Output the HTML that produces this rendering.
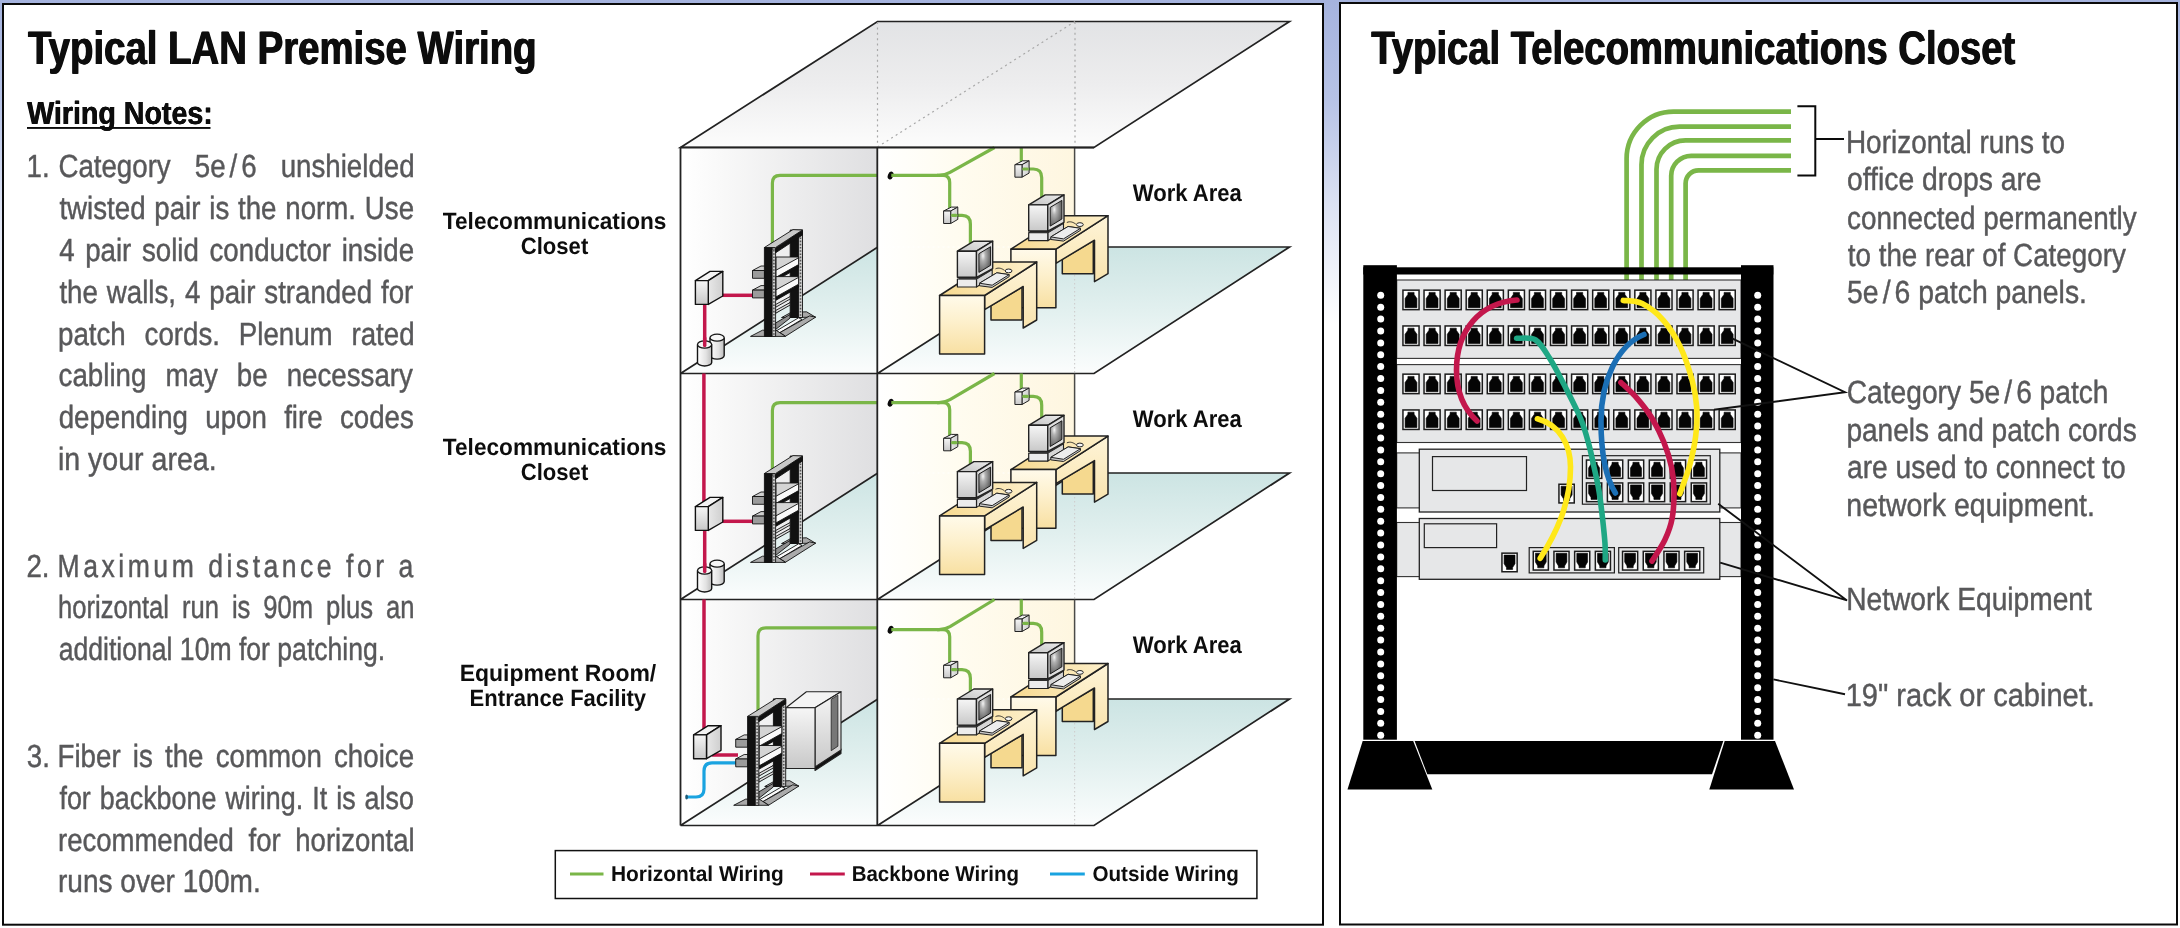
<!DOCTYPE html>
<html><head><meta charset="utf-8"><title>Typical LAN Premise Wiring</title>
<style>html,body{margin:0;padding:0;background:#fff;overflow:hidden}body{width:2180px;height:928px;position:relative}</style></head>
<body>
<svg width="2180" height="928" viewBox="0 0 2180 928" style="position:absolute;left:0;top:0;will-change:transform;font-family:'Liberation Sans',sans-serif" text-rendering="geometricPrecision">
<defs>
<linearGradient id="gBg" x1="0" y1="0" x2="0" y2="1"><stop offset="0" stop-color="#a5b3de"/><stop offset="0.11" stop-color="#b7c3e6"/><stop offset="0.22" stop-color="#dce2f3"/><stop offset="0.35" stop-color="#ffffff"/><stop offset="1" stop-color="#ffffff"/></linearGradient>

<linearGradient id="gWall" x1="0" y1="0" x2="1" y2="0">
 <stop offset="0" stop-color="#ffffff"/><stop offset="0.2" stop-color="#f9f9f9"/><stop offset="0.6" stop-color="#ececed"/><stop offset="1" stop-color="#dfdfe1"/>
</linearGradient>
<linearGradient id="gFloor" gradientUnits="userSpaceOnUse" x1="0" y1="247" x2="0" y2="373">
 <stop offset="0" stop-color="#cce4e3"/><stop offset="0.5" stop-color="#e2f0ef"/><stop offset="1" stop-color="#fbfdfd"/>
</linearGradient>
<linearGradient id="gYel" x1="0" y1="0" x2="1" y2="0">
 <stop offset="0" stop-color="#ffffff"/><stop offset="0.4" stop-color="#fffcf0"/><stop offset="1" stop-color="#fef6e0"/>
</linearGradient>
<linearGradient id="gYelF" x1="0" y1="0" x2="1" y2="0">
 <stop offset="0" stop-color="#ffffff" stop-opacity="0.95"/><stop offset="0.5" stop-color="#fffdf8" stop-opacity="0.92"/><stop offset="1" stop-color="#fffaec" stop-opacity="0.88"/>
</linearGradient>
<linearGradient id="gRoof" gradientUnits="userSpaceOnUse" x1="0" y1="21" x2="0" y2="147">
 <stop offset="0" stop-color="#e2e3e5"/><stop offset="0.5" stop-color="#ededee"/><stop offset="1" stop-color="#fcfcfc"/>
</linearGradient>
<linearGradient id="gDeskF" x1="0" y1="0" x2="0" y2="1">
 <stop offset="0" stop-color="#fffaea"/><stop offset="0.45" stop-color="#fdf0cc"/><stop offset="1" stop-color="#f8e0a2"/>
</linearGradient>
<linearGradient id="gDeskT" x1="0" y1="0" x2="1" y2="0">
 <stop offset="0" stop-color="#f7d98f"/><stop offset="1" stop-color="#fdf0cc"/>
</linearGradient>
<linearGradient id="gDeskS" x1="0" y1="0" x2="0" y2="1">
 <stop offset="0" stop-color="#fef4d8"/><stop offset="1" stop-color="#f9e4ae"/>
</linearGradient>
<linearGradient id="gBox" x1="0" y1="0" x2="0" y2="1">
 <stop offset="0" stop-color="#f6f6f6"/><stop offset="1" stop-color="#c8c8c8"/>
</linearGradient>
<linearGradient id="gBoxS" x1="0" y1="0" x2="1" y2="0">
 <stop offset="0" stop-color="#e8e8e8"/><stop offset="1" stop-color="#cfcfcf"/>
</linearGradient>
<linearGradient id="gMonT" x1="0" y1="1" x2="1" y2="0">
 <stop offset="0" stop-color="#c4c4c4"/><stop offset="1" stop-color="#ececec"/>
</linearGradient>
<radialGradient id="gScr" cx="0.35" cy="0.35" r="0.7">
 <stop offset="0" stop-color="#f4f4f4"/><stop offset="0.3" stop-color="#b0b0b0"/><stop offset="1" stop-color="#5a5a5a"/>
</radialGradient>
<linearGradient id="gCyl" x1="0" y1="0" x2="1" y2="0">
 <stop offset="0" stop-color="#ffffff"/><stop offset="0.6" stop-color="#e2e2e2"/><stop offset="1" stop-color="#bdbdbd"/>
</linearGradient>

<g id="oc" stroke="#222" stroke-width="1" stroke-linejoin="round">
<path d="M953.5,215.3 H962 Q970.4,215.3 970.4,224 V250" fill="none" stroke="#7ab648" stroke-width="3.2"/>
<polygon points="943.6,211.0 950.7,211.0 957.8,207.1 951.3,207.1" fill="#f2f2f2"/>
<polygon points="950.7,211.0 957.8,207.1 957.8,219.4 950.7,223.5" fill="url(#gBoxS)"/>
<rect x="943.6" y="211" width="7.1" height="12.5" fill="url(#gBox)"/>
<path d="M952.5,215.3 H956" fill="none" stroke="#7ab648" stroke-width="3.2" stroke-linecap="round"/>
</g>
<g id="dm" stroke="#222" stroke-width="1.5" stroke-linejoin="round">
<polygon points="991.0,305.5 1022.0,287.2 1022.0,320.0 991.0,320.0" fill="#f5d98f"/>
<polygon points="984.6,295.5 1036.7,262.0 1036.7,320.0 1023.2,328.0 1023.2,286.5 984.6,309.6" fill="url(#gDeskS)"/>
<polygon points="939.6,295.5 984.6,295.5 1036.7,262.0 991.7,262.0" fill="url(#gDeskT)"/>
<rect x="939.6" y="295.5" width="45" height="58.6" fill="url(#gDeskF)"/>
<polygon points="976.5,279.0 992.2,269.6 992.2,277.2 976.5,287.0" fill="#d6d6d6" stroke-width="1.1"/>
<rect x="957.4" y="279" width="19.1" height="8" fill="#ececec" stroke-width="1.2"/>
<polygon points="979.5,283.2 979.5,285.8 992.2,287.4 1009.2,276.6 1009.2,274.6 996.8,272.8" fill="#c8c8c8" stroke-width="1"/>
<polygon points="979.5,283.2 992.2,285.2 1009.2,274.6 996.8,272.8" fill="#ededed" stroke-width="1"/>
<path d="M995.5,268.8 C999,267.2 1002,268.6 1004.5,270.4" fill="none" stroke-width="0.9"/>
<ellipse cx="1008.6" cy="270.9" rx="3.4" ry="1.9" fill="#f6f6f6" stroke-width="1"/>
<polygon points="958.6,277.3 976.5,277.3 992.0,268.0 992.0,270.0 976.5,279.2 958.6,279.2" fill="#333" stroke="none"/>
<polygon points="957.4,251.2 976.5,251.2 992.7,241.2 973.9,241.2" fill="url(#gMonT)" stroke-width="1.4"/>
<rect x="957.4" y="251.2" width="19.1" height="26.1" fill="url(#gBox)" stroke-width="1.4"/>
<polygon points="976.5,251.2 992.7,241.2 992.7,268.6 976.5,277.3" fill="#dedede" stroke-width="1.4"/>
<polygon points="978.9,253.7 990.6,246.7 990.6,265.3 978.9,272.4" fill="url(#gScr)" stroke="#1a1a1a" stroke-width="1"/>
</g>
<g id="rk" stroke="#111" stroke-width="0.9" stroke-linejoin="round">
<polygon points="781.5,317.6 815.6,317.2 806.5,311.8 791.0,312.4" fill="#a8a8a8"/>
<polygon points="775.6,323.0 790.2,314.4 790.2,318.0 775.6,329.5" fill="#8f8f8f"/>
<polygon points="775.8,331.2 779.8,332.7 802.0,319.4 798.6,317.8" fill="#fbfbfb"/>
<polygon points="779.8,332.7 785.6,336.2 815.6,317.2 809.6,315.9" fill="#ababab"/>
<rect x="790.2" y="230" width="8.4" height="87.5" fill="#111"/>
<rect x="798.6" y="230" width="3.9" height="87.5" fill="#d0d0d0"/>
<line x1="800.5" y1="231" x2="800.5" y2="317" stroke="#555" stroke-width="1.6" stroke-dasharray="1.6,1.6"/>
<polygon points="775.6,304.5 790.2,296.5 790.2,299.0 775.6,307.3" fill="#ddd"/>
<polygon points="775.6,310.5 790.2,302.5 790.2,305.0 775.6,313.3" fill="#ddd"/>
<polygon points="776.0,257.0 798.6,257.0 798.6,259.0 776.0,271.0" fill="#d4d4d4"/>
<polygon points="776.0,277.0 798.6,264.4 798.6,267.6 776.0,280.6" fill="#111"/>
<polygon points="776.0,270.2 798.6,257.8 798.6,264.6 776.0,277.3" fill="#fafafa"/>
<polygon points="752.5,270.5 764.4,270.5 772.0,266.0 761.0,266.0" fill="#cfcfcf"/>
<rect x="752.5" y="270.5" width="12" height="7.8" transform="translate(0,0)" fill="#9b9b9b"/>
<polygon points="776.0,276.6 798.6,276.6 798.6,278.6 776.0,290.6" fill="#d4d4d4"/>
<polygon points="776.0,296.6 798.6,284.0 798.6,287.2 776.0,300.2" fill="#111"/>
<polygon points="776.0,289.8 798.6,277.4 798.6,284.2 776.0,296.9" fill="#fafafa"/>
<polygon points="752.5,290.1 764.4,290.1 772.0,285.6 761.0,285.6" fill="#cfcfcf"/>
<rect x="752.5" y="270.5" width="12" height="7.8" transform="translate(0,19.6)" fill="#9b9b9b"/>
<polygon points="750.5,336.4 785.5,336.4 776.0,330.2 762.5,330.2" fill="#a8a8a8"/>
<rect x="764.4" y="247.5" width="7.7" height="89" fill="#111"/>
<rect x="772.1" y="249" width="3.5" height="87.4" fill="#d0d0d0"/>
<line x1="773.9" y1="250" x2="773.9" y2="336" stroke="#555" stroke-width="1.6" stroke-dasharray="1.6,1.6"/>
<polygon points="775.6,248.0 802.5,230.5 802.5,235.0 775.6,252.8" fill="#111"/>
<polygon points="764.4,247.5 775.6,247.5 802.5,230.0 793.0,229.6" fill="#c8c8c8"/>
</g>
<g id="wb" stroke="#111" stroke-width="1.4" stroke-linejoin="round">
<polygon points="695.4,280.6 708.3,280.6 722.8,271.4 710.0,271.4" fill="#f4f4f4"/>
<polygon points="708.3,280.6 722.8,271.4 722.8,296.0 708.3,304.4" fill="url(#gBoxS)"/>
<rect x="695.4" y="280.6" width="12.9" height="23.8" fill="url(#gBox)"/>
</g>
<g id="cy"><path d="M710.0,337.7 V355.6 A7.1,3.5 0 0 0 724.2,355.6 V337.7" fill="url(#gCyl)" stroke="#151515" stroke-width="1.4"/><ellipse cx="717.1" cy="337.7" rx="7.1" ry="3.5" fill="#f6f6f6" stroke="#151515" stroke-width="1.3"/><path d="M697.5,344.5 V362.4 A7.1,3.6 0 0 0 711.7,362.4 V344.5" fill="url(#gCyl)" stroke="#151515" stroke-width="1.4"/><ellipse cx="704.6" cy="344.5" rx="7.1" ry="3.6" fill="#f6f6f6" stroke="#151515" stroke-width="1.3"/></g>
</defs>
<rect width="2180" height="928" fill="url(#gBg)"/>
<rect x="3" y="4" width="1320" height="920.7" fill="#fff" stroke="#0a0a0a" stroke-width="2"/>
<rect x="1340" y="3" width="837" height="921.5" fill="#fff" stroke="#0a0a0a" stroke-width="2"/>
<polygon points="680.5,147.5 877.5,21.5 1289.5,21.5 1094.0,147.5" fill="url(#gRoof)" stroke="#222" stroke-width="1.7" stroke-linejoin="miter"/>
<g stroke="#a8a8a8" stroke-width="1.2" stroke-dasharray="2,3.4" fill="none"><path d="M877.5,22 V147 M1075,22 V147 M877.5,147 L1075,21.5"/></g>
<g transform="translate(0,0)">
<polygon points="680.5,373.5 1094.0,373.5 1289.5,247.0 877.5,247.0" fill="url(#gFloor)"/>
<polygon points="680.5,147.5 877.5,147.5 877.5,247.3 680.5,373.5" fill="url(#gWall)"/>
<polygon points="877.5,147.5 1074.6,147.5 1074.6,247.3 877.5,373.5" fill="url(#gYel)"/>
</g>
<g transform="translate(0,226)">
<polygon points="680.5,373.5 1094.0,373.5 1289.5,247.0 877.5,247.0" fill="url(#gFloor)"/>
<polygon points="680.5,147.5 877.5,147.5 877.5,247.3 680.5,373.5" fill="url(#gWall)"/>
<polygon points="877.5,147.5 1074.6,147.5 1074.6,247.3 877.5,373.5" fill="url(#gYel)"/>
</g>
<g transform="translate(0,452)">
<polygon points="680.5,373.5 1094.0,373.5 1289.5,247.0 877.5,247.0" fill="url(#gFloor)"/>
<polygon points="680.5,147.5 877.5,147.5 877.5,247.3 680.5,373.5" fill="url(#gWall)"/>
<polygon points="877.5,147.5 1074.6,147.5 1074.6,247.3 877.5,373.5" fill="url(#gYel)"/>
</g>
<g transform="translate(0,0)">
<line x1="1074.6" y1="147.5" x2="1074.6" y2="247" stroke="#4a4a48" stroke-width="1.5"/>
<line x1="1074.6" y1="247" x2="1074.6" y2="373.5" stroke="#cfcfcf" stroke-width="1.2" stroke-dasharray="1.5,2.5"/>
<line x1="877.5" y1="247" x2="1075" y2="247" stroke="#ffffff" stroke-width="1.2" stroke-dasharray="2,3" opacity="0.8"/>
<path d="M680.5,373.5 L877.5,247.3 M877.5,373.5 L1074.6,247.3 M1075,247 H1289.5 L1094,373.5 H680.5" fill="none" stroke="#222" stroke-width="1.7" stroke-linejoin="miter"/>
<g transform="translate(0,0)">
<ellipse cx="890.6" cy="175.5" rx="2.7" ry="4" fill="#0a0a0a" transform="rotate(22 890.6 175.5)"/>
<path d="M891.3,175.3 H939 Q945,175.3 950,172.4 L994.5,147.5" fill="none" stroke="#7ab648" stroke-width="3.2"/>
<path d="M937,175.3 H943 Q949.7,175.3 949.7,182.5 V210" fill="none" stroke="#7ab648" stroke-width="3.2"/>
<path d="M1021.3,147.5 V164" fill="none" stroke="#7ab648" stroke-width="3.2"/>
<use href="#oc" transform="translate(71.3,-46.3)"/>
<use href="#oc"/>
</g>
<use href="#dm" transform="translate(71.3,-46.3)"/>
<use href="#dm" transform="translate(0,0)"/>
</g>
<g transform="translate(0,226)">
<line x1="1074.6" y1="147.5" x2="1074.6" y2="247" stroke="#4a4a48" stroke-width="1.5"/>
<line x1="1074.6" y1="247" x2="1074.6" y2="373.5" stroke="#cfcfcf" stroke-width="1.2" stroke-dasharray="1.5,2.5"/>
<line x1="877.5" y1="247" x2="1075" y2="247" stroke="#ffffff" stroke-width="1.2" stroke-dasharray="2,3" opacity="0.8"/>
<path d="M680.5,373.5 L877.5,247.3 M877.5,373.5 L1074.6,247.3 M1075,247 H1289.5 L1094,373.5 H680.5" fill="none" stroke="#222" stroke-width="1.7" stroke-linejoin="miter"/>
<g transform="translate(0,1.3)">
<ellipse cx="890.6" cy="175.5" rx="2.7" ry="4" fill="#0a0a0a" transform="rotate(22 890.6 175.5)"/>
<path d="M891.3,175.3 H939 Q945,175.3 950,172.4 L994.5,146.2" fill="none" stroke="#7ab648" stroke-width="3.2"/>
<path d="M937,175.3 H943 Q949.7,175.3 949.7,182.5 V210" fill="none" stroke="#7ab648" stroke-width="3.2"/>
<path d="M1021.3,146.2 V164" fill="none" stroke="#7ab648" stroke-width="3.2"/>
<use href="#oc" transform="translate(71.3,-46.3)"/>
<use href="#oc"/>
</g>
<use href="#dm" transform="translate(71.3,-51.9)"/>
<use href="#dm" transform="translate(0,-5.6)"/>
</g>
<g transform="translate(0,452)">
<line x1="1074.6" y1="147.5" x2="1074.6" y2="247" stroke="#4a4a48" stroke-width="1.5"/>
<line x1="1074.6" y1="247" x2="1074.6" y2="373.5" stroke="#cfcfcf" stroke-width="1.2" stroke-dasharray="1.5,2.5"/>
<line x1="877.5" y1="247" x2="1075" y2="247" stroke="#ffffff" stroke-width="1.2" stroke-dasharray="2,3" opacity="0.8"/>
<path d="M680.5,373.5 L877.5,247.3 M877.5,373.5 L1074.6,247.3 M1075,247 H1289.5 L1094,373.5 H680.5" fill="none" stroke="#222" stroke-width="1.7" stroke-linejoin="miter"/>
<g transform="translate(0,2.3)">
<ellipse cx="890.6" cy="175.5" rx="2.7" ry="4" fill="#0a0a0a" transform="rotate(22 890.6 175.5)"/>
<path d="M891.3,175.3 H939 Q945,175.3 950,172.4 L994.5,145.2" fill="none" stroke="#7ab648" stroke-width="3.2"/>
<path d="M937,175.3 H943 Q949.7,175.3 949.7,182.5 V210" fill="none" stroke="#7ab648" stroke-width="3.2"/>
<path d="M1021.3,145.2 V164" fill="none" stroke="#7ab648" stroke-width="3.2"/>
<use href="#oc" transform="translate(71.3,-46.3)"/>
<use href="#oc"/>
</g>
<use href="#dm" transform="translate(71.3,-50.5)"/>
<use href="#dm" transform="translate(0,-4.2)"/>
</g>
<g transform="translate(0,0)">
<path d="M877.5,175.4 H780 Q772.4,175.4 772.4,183.1 V246" fill="none" stroke="#7ab648" stroke-width="3.2"/>
<path d="M722,295.3 H753" fill="none" stroke="#c3174c" stroke-width="3.5"/>
<path d="M704.7,304 V346" fill="none" stroke="#c3174c" stroke-width="3.5"/>
<use href="#cy"/>
<path d="M704.7,338 V345.5" fill="none" stroke="#c3174c" stroke-width="3.5" stroke-linecap="round"/>
<use href="#wb"/>
<use href="#rk"/>
</g>
<g transform="translate(0,226)">
<path d="M877.5,176.70000000000002 H780 Q772.4,176.70000000000002 772.4,184.4 V246" fill="none" stroke="#7ab648" stroke-width="3.2"/>
<path d="M722,295.3 H753" fill="none" stroke="#c3174c" stroke-width="3.5"/>
<path d="M704.7,304 V346" fill="none" stroke="#c3174c" stroke-width="3.5"/>
<path d="M703.9,147.5 V282" fill="none" stroke="#c3174c" stroke-width="3.5"/>
<use href="#cy"/>
<path d="M704.7,338 V345.5" fill="none" stroke="#c3174c" stroke-width="3.5" stroke-linecap="round"/>
<use href="#wb"/>
<use href="#rk"/>
</g>
<g transform="translate(0,452)">
<path d="M877.5,175.79999999999995 H766 Q758,175.79999999999995 758,184 V260" fill="none" stroke="#7ab648" stroke-width="3.2"/>
<path d="M704,147.5 V280" fill="none" stroke="#c3174c" stroke-width="3.5"/>
<path d="M712,303 H738" fill="none" stroke="#c3174c" stroke-width="3.5"/>
<path d="M738,310.79999999999995 H712 Q704,310.79999999999995 704,319 V337 Q704,345 696,345 H687" fill="none" stroke="#1aa3e0" stroke-width="3.2"/>
<ellipse cx="686.6" cy="345" rx="1.4" ry="2.6" fill="#1b5a78"/>
<use href="#wb" transform="translate(-1.8,2.3)"/>
<g stroke="#222" stroke-width="1.1" stroke-linejoin="round">
<polygon points="815.0,314.0 841.0,297.0 841.0,301.5 815.0,318.5" fill="#111"/>
<polygon points="786.0,255.8 815.0,255.8 841.0,239.7 806.4,239.7" fill="#f4f4f4"/>
<polygon points="815.0,255.8 841.0,239.7 841.0,298.0 815.0,315.0" fill="url(#gBox)"/>
<rect x="786" y="255.79999999999995" width="29" height="60.7" fill="url(#gBox)"/>
<polygon points="831.2,247.3 837.9,243.2 837.9,294.2 831.2,298.7" fill="#777" stroke-width="0.8"/>
</g>
<use href="#rk" transform="translate(-16.8,16.9)"/>
</g>
<path d="M680.5,147.5 V825.5 M877.3,147.5 V825.5 M680.5,147.5 H1094" fill="none" stroke="#222" stroke-width="1.8"/>
<rect x="555.3" y="850.6" width="701.6" height="47.9" fill="#fff" stroke="#111" stroke-width="1.5"/>
<line x1="570" y1="874" x2="603.5" y2="874" stroke="#7ab648" stroke-width="3"/>
<line x1="810" y1="874" x2="844.8" y2="874" stroke="#c3174c" stroke-width="3"/>
<line x1="1050" y1="874" x2="1084.8" y2="874" stroke="#1aa3e0" stroke-width="3"/>
<path d="M1626.6,280 V158.6 A47,47 0 0 1 1673.6,111.6 H1791" fill="none" stroke="#7ab648" stroke-width="4.7"/>
<path d="M1641.5,280 V164.7 A38,38 0 0 1 1679.5,126.7 H1791" fill="none" stroke="#7ab648" stroke-width="4.7"/>
<path d="M1656.5,280 V169.3 A29,29 0 0 1 1685.5,140.3 H1791" fill="none" stroke="#7ab648" stroke-width="4.7"/>
<path d="M1671.2,280 V175.8 A20,20 0 0 1 1691.2,155.8 H1791" fill="none" stroke="#7ab648" stroke-width="4.7"/>
<path d="M1685.6,280 V183.4 A13,13 0 0 1 1698.6,170.4 H1791" fill="none" stroke="#7ab648" stroke-width="4.7"/>
<path d="M1797.4,106.2 H1815.3 V175.6 H1797.4 M1815.3,139 H1844" fill="none" stroke="#0a0a0a" stroke-width="2"/>
<rect x="1396.7" y="280" width="344.3" height="78.4" fill="#e6e7e8" stroke="#333" stroke-width="1.1"/>
<rect x="1396.7" y="364.6" width="344.3" height="77.9" fill="#e6e7e8" stroke="#333" stroke-width="1.1"/>
<rect x="1402.95" y="290.15" width="16.10" height="19.50" fill="#fff" stroke="#1c1c1c" stroke-width="1.5"/><polygon points="1405.1,307.7 1405.1,298.5 1407.9,294.4 1407.9,292.4 1414.1,292.4 1414.1,294.4 1416.9,298.5 1416.9,307.7" fill="#050505" stroke="#050505" stroke-width="0.6" stroke-linejoin="round"/>
<rect x="1424.03" y="290.15" width="16.10" height="19.50" fill="#fff" stroke="#1c1c1c" stroke-width="1.5"/><polygon points="1426.2,307.7 1426.2,298.5 1429.0,294.4 1429.0,292.4 1435.2,292.4 1435.2,294.4 1438.0,298.5 1438.0,307.7" fill="#050505" stroke="#050505" stroke-width="0.6" stroke-linejoin="round"/>
<rect x="1445.11" y="290.15" width="16.10" height="19.50" fill="#fff" stroke="#1c1c1c" stroke-width="1.5"/><polygon points="1447.3,307.7 1447.3,298.5 1450.1,294.4 1450.1,292.4 1456.3,292.4 1456.3,294.4 1459.1,298.5 1459.1,307.7" fill="#050505" stroke="#050505" stroke-width="0.6" stroke-linejoin="round"/>
<rect x="1466.19" y="290.15" width="16.10" height="19.50" fill="#fff" stroke="#1c1c1c" stroke-width="1.5"/><polygon points="1468.3,307.7 1468.3,298.5 1471.1,294.4 1471.1,292.4 1477.3,292.4 1477.3,294.4 1480.1,298.5 1480.1,307.7" fill="#050505" stroke="#050505" stroke-width="0.6" stroke-linejoin="round"/>
<rect x="1487.27" y="290.15" width="16.10" height="19.50" fill="#fff" stroke="#1c1c1c" stroke-width="1.5"/><polygon points="1489.4,307.7 1489.4,298.5 1492.2,294.4 1492.2,292.4 1498.4,292.4 1498.4,294.4 1501.2,298.5 1501.2,307.7" fill="#050505" stroke="#050505" stroke-width="0.6" stroke-linejoin="round"/>
<rect x="1508.35" y="290.15" width="16.10" height="19.50" fill="#fff" stroke="#1c1c1c" stroke-width="1.5"/><polygon points="1510.5,307.7 1510.5,298.5 1513.3,294.4 1513.3,292.4 1519.5,292.4 1519.5,294.4 1522.3,298.5 1522.3,307.7" fill="#050505" stroke="#050505" stroke-width="0.6" stroke-linejoin="round"/>
<rect x="1529.43" y="290.15" width="16.10" height="19.50" fill="#fff" stroke="#1c1c1c" stroke-width="1.5"/><polygon points="1531.6,307.7 1531.6,298.5 1534.4,294.4 1534.4,292.4 1540.6,292.4 1540.6,294.4 1543.4,298.5 1543.4,307.7" fill="#050505" stroke="#050505" stroke-width="0.6" stroke-linejoin="round"/>
<rect x="1550.51" y="290.15" width="16.10" height="19.50" fill="#fff" stroke="#1c1c1c" stroke-width="1.5"/><polygon points="1552.7,307.7 1552.7,298.5 1555.5,294.4 1555.5,292.4 1561.7,292.4 1561.7,294.4 1564.5,298.5 1564.5,307.7" fill="#050505" stroke="#050505" stroke-width="0.6" stroke-linejoin="round"/>
<rect x="1571.59" y="290.15" width="16.10" height="19.50" fill="#fff" stroke="#1c1c1c" stroke-width="1.5"/><polygon points="1573.7,307.7 1573.7,298.5 1576.5,294.4 1576.5,292.4 1582.7,292.4 1582.7,294.4 1585.5,298.5 1585.5,307.7" fill="#050505" stroke="#050505" stroke-width="0.6" stroke-linejoin="round"/>
<rect x="1592.67" y="290.15" width="16.10" height="19.50" fill="#fff" stroke="#1c1c1c" stroke-width="1.5"/><polygon points="1594.8,307.7 1594.8,298.5 1597.6,294.4 1597.6,292.4 1603.8,292.4 1603.8,294.4 1606.6,298.5 1606.6,307.7" fill="#050505" stroke="#050505" stroke-width="0.6" stroke-linejoin="round"/>
<rect x="1613.75" y="290.15" width="16.10" height="19.50" fill="#fff" stroke="#1c1c1c" stroke-width="1.5"/><polygon points="1615.9,307.7 1615.9,298.5 1618.7,294.4 1618.7,292.4 1624.9,292.4 1624.9,294.4 1627.7,298.5 1627.7,307.7" fill="#050505" stroke="#050505" stroke-width="0.6" stroke-linejoin="round"/>
<rect x="1634.83" y="290.15" width="16.10" height="19.50" fill="#fff" stroke="#1c1c1c" stroke-width="1.5"/><polygon points="1637.0,307.7 1637.0,298.5 1639.8,294.4 1639.8,292.4 1646.0,292.4 1646.0,294.4 1648.8,298.5 1648.8,307.7" fill="#050505" stroke="#050505" stroke-width="0.6" stroke-linejoin="round"/>
<rect x="1655.91" y="290.15" width="16.10" height="19.50" fill="#fff" stroke="#1c1c1c" stroke-width="1.5"/><polygon points="1658.1,307.7 1658.1,298.5 1660.9,294.4 1660.9,292.4 1667.1,292.4 1667.1,294.4 1669.9,298.5 1669.9,307.7" fill="#050505" stroke="#050505" stroke-width="0.6" stroke-linejoin="round"/>
<rect x="1676.99" y="290.15" width="16.10" height="19.50" fill="#fff" stroke="#1c1c1c" stroke-width="1.5"/><polygon points="1679.1,307.7 1679.1,298.5 1681.9,294.4 1681.9,292.4 1688.1,292.4 1688.1,294.4 1690.9,298.5 1690.9,307.7" fill="#050505" stroke="#050505" stroke-width="0.6" stroke-linejoin="round"/>
<rect x="1698.07" y="290.15" width="16.10" height="19.50" fill="#fff" stroke="#1c1c1c" stroke-width="1.5"/><polygon points="1700.2,307.7 1700.2,298.5 1703.0,294.4 1703.0,292.4 1709.2,292.4 1709.2,294.4 1712.0,298.5 1712.0,307.7" fill="#050505" stroke="#050505" stroke-width="0.6" stroke-linejoin="round"/>
<rect x="1719.15" y="290.15" width="16.10" height="19.50" fill="#fff" stroke="#1c1c1c" stroke-width="1.5"/><polygon points="1721.3,307.7 1721.3,298.5 1724.1,294.4 1724.1,292.4 1730.3,292.4 1730.3,294.4 1733.1,298.5 1733.1,307.7" fill="#050505" stroke="#050505" stroke-width="0.6" stroke-linejoin="round"/>
<rect x="1402.95" y="325.95" width="16.10" height="19.50" fill="#fff" stroke="#1c1c1c" stroke-width="1.5"/><polygon points="1405.1,343.5 1405.1,334.3 1407.9,330.2 1407.9,328.2 1414.1,328.2 1414.1,330.2 1416.9,334.3 1416.9,343.5" fill="#050505" stroke="#050505" stroke-width="0.6" stroke-linejoin="round"/>
<rect x="1424.03" y="325.95" width="16.10" height="19.50" fill="#fff" stroke="#1c1c1c" stroke-width="1.5"/><polygon points="1426.2,343.5 1426.2,334.3 1429.0,330.2 1429.0,328.2 1435.2,328.2 1435.2,330.2 1438.0,334.3 1438.0,343.5" fill="#050505" stroke="#050505" stroke-width="0.6" stroke-linejoin="round"/>
<rect x="1445.11" y="325.95" width="16.10" height="19.50" fill="#fff" stroke="#1c1c1c" stroke-width="1.5"/><polygon points="1447.3,343.5 1447.3,334.3 1450.1,330.2 1450.1,328.2 1456.3,328.2 1456.3,330.2 1459.1,334.3 1459.1,343.5" fill="#050505" stroke="#050505" stroke-width="0.6" stroke-linejoin="round"/>
<rect x="1466.19" y="325.95" width="16.10" height="19.50" fill="#fff" stroke="#1c1c1c" stroke-width="1.5"/><polygon points="1468.3,343.5 1468.3,334.3 1471.1,330.2 1471.1,328.2 1477.3,328.2 1477.3,330.2 1480.1,334.3 1480.1,343.5" fill="#050505" stroke="#050505" stroke-width="0.6" stroke-linejoin="round"/>
<rect x="1487.27" y="325.95" width="16.10" height="19.50" fill="#fff" stroke="#1c1c1c" stroke-width="1.5"/><polygon points="1489.4,343.5 1489.4,334.3 1492.2,330.2 1492.2,328.2 1498.4,328.2 1498.4,330.2 1501.2,334.3 1501.2,343.5" fill="#050505" stroke="#050505" stroke-width="0.6" stroke-linejoin="round"/>
<rect x="1508.35" y="325.95" width="16.10" height="19.50" fill="#fff" stroke="#1c1c1c" stroke-width="1.5"/><polygon points="1510.5,343.5 1510.5,334.3 1513.3,330.2 1513.3,328.2 1519.5,328.2 1519.5,330.2 1522.3,334.3 1522.3,343.5" fill="#050505" stroke="#050505" stroke-width="0.6" stroke-linejoin="round"/>
<rect x="1529.43" y="325.95" width="16.10" height="19.50" fill="#fff" stroke="#1c1c1c" stroke-width="1.5"/><polygon points="1531.6,343.5 1531.6,334.3 1534.4,330.2 1534.4,328.2 1540.6,328.2 1540.6,330.2 1543.4,334.3 1543.4,343.5" fill="#050505" stroke="#050505" stroke-width="0.6" stroke-linejoin="round"/>
<rect x="1550.51" y="325.95" width="16.10" height="19.50" fill="#fff" stroke="#1c1c1c" stroke-width="1.5"/><polygon points="1552.7,343.5 1552.7,334.3 1555.5,330.2 1555.5,328.2 1561.7,328.2 1561.7,330.2 1564.5,334.3 1564.5,343.5" fill="#050505" stroke="#050505" stroke-width="0.6" stroke-linejoin="round"/>
<rect x="1571.59" y="325.95" width="16.10" height="19.50" fill="#fff" stroke="#1c1c1c" stroke-width="1.5"/><polygon points="1573.7,343.5 1573.7,334.3 1576.5,330.2 1576.5,328.2 1582.7,328.2 1582.7,330.2 1585.5,334.3 1585.5,343.5" fill="#050505" stroke="#050505" stroke-width="0.6" stroke-linejoin="round"/>
<rect x="1592.67" y="325.95" width="16.10" height="19.50" fill="#fff" stroke="#1c1c1c" stroke-width="1.5"/><polygon points="1594.8,343.5 1594.8,334.3 1597.6,330.2 1597.6,328.2 1603.8,328.2 1603.8,330.2 1606.6,334.3 1606.6,343.5" fill="#050505" stroke="#050505" stroke-width="0.6" stroke-linejoin="round"/>
<rect x="1613.75" y="325.95" width="16.10" height="19.50" fill="#fff" stroke="#1c1c1c" stroke-width="1.5"/><polygon points="1615.9,343.5 1615.9,334.3 1618.7,330.2 1618.7,328.2 1624.9,328.2 1624.9,330.2 1627.7,334.3 1627.7,343.5" fill="#050505" stroke="#050505" stroke-width="0.6" stroke-linejoin="round"/>
<rect x="1634.83" y="325.95" width="16.10" height="19.50" fill="#fff" stroke="#1c1c1c" stroke-width="1.5"/><polygon points="1637.0,343.5 1637.0,334.3 1639.8,330.2 1639.8,328.2 1646.0,328.2 1646.0,330.2 1648.8,334.3 1648.8,343.5" fill="#050505" stroke="#050505" stroke-width="0.6" stroke-linejoin="round"/>
<rect x="1655.91" y="325.95" width="16.10" height="19.50" fill="#fff" stroke="#1c1c1c" stroke-width="1.5"/><polygon points="1658.1,343.5 1658.1,334.3 1660.9,330.2 1660.9,328.2 1667.1,328.2 1667.1,330.2 1669.9,334.3 1669.9,343.5" fill="#050505" stroke="#050505" stroke-width="0.6" stroke-linejoin="round"/>
<rect x="1676.99" y="325.95" width="16.10" height="19.50" fill="#fff" stroke="#1c1c1c" stroke-width="1.5"/><polygon points="1679.1,343.5 1679.1,334.3 1681.9,330.2 1681.9,328.2 1688.1,328.2 1688.1,330.2 1690.9,334.3 1690.9,343.5" fill="#050505" stroke="#050505" stroke-width="0.6" stroke-linejoin="round"/>
<rect x="1698.07" y="325.95" width="16.10" height="19.50" fill="#fff" stroke="#1c1c1c" stroke-width="1.5"/><polygon points="1700.2,343.5 1700.2,334.3 1703.0,330.2 1703.0,328.2 1709.2,328.2 1709.2,330.2 1712.0,334.3 1712.0,343.5" fill="#050505" stroke="#050505" stroke-width="0.6" stroke-linejoin="round"/>
<rect x="1719.15" y="325.95" width="16.10" height="19.50" fill="#fff" stroke="#1c1c1c" stroke-width="1.5"/><polygon points="1721.3,343.5 1721.3,334.3 1724.1,330.2 1724.1,328.2 1730.3,328.2 1730.3,330.2 1733.1,334.3 1733.1,343.5" fill="#050505" stroke="#050505" stroke-width="0.6" stroke-linejoin="round"/>
<rect x="1402.95" y="374.15" width="16.10" height="19.50" fill="#fff" stroke="#1c1c1c" stroke-width="1.5"/><polygon points="1405.1,391.7 1405.1,382.5 1407.9,378.4 1407.9,376.4 1414.1,376.4 1414.1,378.4 1416.9,382.5 1416.9,391.7" fill="#050505" stroke="#050505" stroke-width="0.6" stroke-linejoin="round"/>
<rect x="1424.03" y="374.15" width="16.10" height="19.50" fill="#fff" stroke="#1c1c1c" stroke-width="1.5"/><polygon points="1426.2,391.7 1426.2,382.5 1429.0,378.4 1429.0,376.4 1435.2,376.4 1435.2,378.4 1438.0,382.5 1438.0,391.7" fill="#050505" stroke="#050505" stroke-width="0.6" stroke-linejoin="round"/>
<rect x="1445.11" y="374.15" width="16.10" height="19.50" fill="#fff" stroke="#1c1c1c" stroke-width="1.5"/><polygon points="1447.3,391.7 1447.3,382.5 1450.1,378.4 1450.1,376.4 1456.3,376.4 1456.3,378.4 1459.1,382.5 1459.1,391.7" fill="#050505" stroke="#050505" stroke-width="0.6" stroke-linejoin="round"/>
<rect x="1466.19" y="374.15" width="16.10" height="19.50" fill="#fff" stroke="#1c1c1c" stroke-width="1.5"/><polygon points="1468.3,391.7 1468.3,382.5 1471.1,378.4 1471.1,376.4 1477.3,376.4 1477.3,378.4 1480.1,382.5 1480.1,391.7" fill="#050505" stroke="#050505" stroke-width="0.6" stroke-linejoin="round"/>
<rect x="1487.27" y="374.15" width="16.10" height="19.50" fill="#fff" stroke="#1c1c1c" stroke-width="1.5"/><polygon points="1489.4,391.7 1489.4,382.5 1492.2,378.4 1492.2,376.4 1498.4,376.4 1498.4,378.4 1501.2,382.5 1501.2,391.7" fill="#050505" stroke="#050505" stroke-width="0.6" stroke-linejoin="round"/>
<rect x="1508.35" y="374.15" width="16.10" height="19.50" fill="#fff" stroke="#1c1c1c" stroke-width="1.5"/><polygon points="1510.5,391.7 1510.5,382.5 1513.3,378.4 1513.3,376.4 1519.5,376.4 1519.5,378.4 1522.3,382.5 1522.3,391.7" fill="#050505" stroke="#050505" stroke-width="0.6" stroke-linejoin="round"/>
<rect x="1529.43" y="374.15" width="16.10" height="19.50" fill="#fff" stroke="#1c1c1c" stroke-width="1.5"/><polygon points="1531.6,391.7 1531.6,382.5 1534.4,378.4 1534.4,376.4 1540.6,376.4 1540.6,378.4 1543.4,382.5 1543.4,391.7" fill="#050505" stroke="#050505" stroke-width="0.6" stroke-linejoin="round"/>
<rect x="1550.51" y="374.15" width="16.10" height="19.50" fill="#fff" stroke="#1c1c1c" stroke-width="1.5"/><polygon points="1552.7,391.7 1552.7,382.5 1555.5,378.4 1555.5,376.4 1561.7,376.4 1561.7,378.4 1564.5,382.5 1564.5,391.7" fill="#050505" stroke="#050505" stroke-width="0.6" stroke-linejoin="round"/>
<rect x="1571.59" y="374.15" width="16.10" height="19.50" fill="#fff" stroke="#1c1c1c" stroke-width="1.5"/><polygon points="1573.7,391.7 1573.7,382.5 1576.5,378.4 1576.5,376.4 1582.7,376.4 1582.7,378.4 1585.5,382.5 1585.5,391.7" fill="#050505" stroke="#050505" stroke-width="0.6" stroke-linejoin="round"/>
<rect x="1592.67" y="374.15" width="16.10" height="19.50" fill="#fff" stroke="#1c1c1c" stroke-width="1.5"/><polygon points="1594.8,391.7 1594.8,382.5 1597.6,378.4 1597.6,376.4 1603.8,376.4 1603.8,378.4 1606.6,382.5 1606.6,391.7" fill="#050505" stroke="#050505" stroke-width="0.6" stroke-linejoin="round"/>
<rect x="1613.75" y="374.15" width="16.10" height="19.50" fill="#fff" stroke="#1c1c1c" stroke-width="1.5"/><polygon points="1615.9,391.7 1615.9,382.5 1618.7,378.4 1618.7,376.4 1624.9,376.4 1624.9,378.4 1627.7,382.5 1627.7,391.7" fill="#050505" stroke="#050505" stroke-width="0.6" stroke-linejoin="round"/>
<rect x="1634.83" y="374.15" width="16.10" height="19.50" fill="#fff" stroke="#1c1c1c" stroke-width="1.5"/><polygon points="1637.0,391.7 1637.0,382.5 1639.8,378.4 1639.8,376.4 1646.0,376.4 1646.0,378.4 1648.8,382.5 1648.8,391.7" fill="#050505" stroke="#050505" stroke-width="0.6" stroke-linejoin="round"/>
<rect x="1655.91" y="374.15" width="16.10" height="19.50" fill="#fff" stroke="#1c1c1c" stroke-width="1.5"/><polygon points="1658.1,391.7 1658.1,382.5 1660.9,378.4 1660.9,376.4 1667.1,376.4 1667.1,378.4 1669.9,382.5 1669.9,391.7" fill="#050505" stroke="#050505" stroke-width="0.6" stroke-linejoin="round"/>
<rect x="1676.99" y="374.15" width="16.10" height="19.50" fill="#fff" stroke="#1c1c1c" stroke-width="1.5"/><polygon points="1679.1,391.7 1679.1,382.5 1681.9,378.4 1681.9,376.4 1688.1,376.4 1688.1,378.4 1690.9,382.5 1690.9,391.7" fill="#050505" stroke="#050505" stroke-width="0.6" stroke-linejoin="round"/>
<rect x="1698.07" y="374.15" width="16.10" height="19.50" fill="#fff" stroke="#1c1c1c" stroke-width="1.5"/><polygon points="1700.2,391.7 1700.2,382.5 1703.0,378.4 1703.0,376.4 1709.2,376.4 1709.2,378.4 1712.0,382.5 1712.0,391.7" fill="#050505" stroke="#050505" stroke-width="0.6" stroke-linejoin="round"/>
<rect x="1719.15" y="374.15" width="16.10" height="19.50" fill="#fff" stroke="#1c1c1c" stroke-width="1.5"/><polygon points="1721.3,391.7 1721.3,382.5 1724.1,378.4 1724.1,376.4 1730.3,376.4 1730.3,378.4 1733.1,382.5 1733.1,391.7" fill="#050505" stroke="#050505" stroke-width="0.6" stroke-linejoin="round"/>
<rect x="1402.95" y="409.95" width="16.10" height="19.50" fill="#fff" stroke="#1c1c1c" stroke-width="1.5"/><polygon points="1405.1,427.5 1405.1,418.3 1407.9,414.2 1407.9,412.2 1414.1,412.2 1414.1,414.2 1416.9,418.3 1416.9,427.5" fill="#050505" stroke="#050505" stroke-width="0.6" stroke-linejoin="round"/>
<rect x="1424.03" y="409.95" width="16.10" height="19.50" fill="#fff" stroke="#1c1c1c" stroke-width="1.5"/><polygon points="1426.2,427.5 1426.2,418.3 1429.0,414.2 1429.0,412.2 1435.2,412.2 1435.2,414.2 1438.0,418.3 1438.0,427.5" fill="#050505" stroke="#050505" stroke-width="0.6" stroke-linejoin="round"/>
<rect x="1445.11" y="409.95" width="16.10" height="19.50" fill="#fff" stroke="#1c1c1c" stroke-width="1.5"/><polygon points="1447.3,427.5 1447.3,418.3 1450.1,414.2 1450.1,412.2 1456.3,412.2 1456.3,414.2 1459.1,418.3 1459.1,427.5" fill="#050505" stroke="#050505" stroke-width="0.6" stroke-linejoin="round"/>
<rect x="1466.19" y="409.95" width="16.10" height="19.50" fill="#fff" stroke="#1c1c1c" stroke-width="1.5"/><polygon points="1468.3,427.5 1468.3,418.3 1471.1,414.2 1471.1,412.2 1477.3,412.2 1477.3,414.2 1480.1,418.3 1480.1,427.5" fill="#050505" stroke="#050505" stroke-width="0.6" stroke-linejoin="round"/>
<rect x="1487.27" y="409.95" width="16.10" height="19.50" fill="#fff" stroke="#1c1c1c" stroke-width="1.5"/><polygon points="1489.4,427.5 1489.4,418.3 1492.2,414.2 1492.2,412.2 1498.4,412.2 1498.4,414.2 1501.2,418.3 1501.2,427.5" fill="#050505" stroke="#050505" stroke-width="0.6" stroke-linejoin="round"/>
<rect x="1508.35" y="409.95" width="16.10" height="19.50" fill="#fff" stroke="#1c1c1c" stroke-width="1.5"/><polygon points="1510.5,427.5 1510.5,418.3 1513.3,414.2 1513.3,412.2 1519.5,412.2 1519.5,414.2 1522.3,418.3 1522.3,427.5" fill="#050505" stroke="#050505" stroke-width="0.6" stroke-linejoin="round"/>
<rect x="1529.43" y="409.95" width="16.10" height="19.50" fill="#fff" stroke="#1c1c1c" stroke-width="1.5"/><polygon points="1531.6,427.5 1531.6,418.3 1534.4,414.2 1534.4,412.2 1540.6,412.2 1540.6,414.2 1543.4,418.3 1543.4,427.5" fill="#050505" stroke="#050505" stroke-width="0.6" stroke-linejoin="round"/>
<rect x="1550.51" y="409.95" width="16.10" height="19.50" fill="#fff" stroke="#1c1c1c" stroke-width="1.5"/><polygon points="1552.7,427.5 1552.7,418.3 1555.5,414.2 1555.5,412.2 1561.7,412.2 1561.7,414.2 1564.5,418.3 1564.5,427.5" fill="#050505" stroke="#050505" stroke-width="0.6" stroke-linejoin="round"/>
<rect x="1571.59" y="409.95" width="16.10" height="19.50" fill="#fff" stroke="#1c1c1c" stroke-width="1.5"/><polygon points="1573.7,427.5 1573.7,418.3 1576.5,414.2 1576.5,412.2 1582.7,412.2 1582.7,414.2 1585.5,418.3 1585.5,427.5" fill="#050505" stroke="#050505" stroke-width="0.6" stroke-linejoin="round"/>
<rect x="1592.67" y="409.95" width="16.10" height="19.50" fill="#fff" stroke="#1c1c1c" stroke-width="1.5"/><polygon points="1594.8,427.5 1594.8,418.3 1597.6,414.2 1597.6,412.2 1603.8,412.2 1603.8,414.2 1606.6,418.3 1606.6,427.5" fill="#050505" stroke="#050505" stroke-width="0.6" stroke-linejoin="round"/>
<rect x="1613.75" y="409.95" width="16.10" height="19.50" fill="#fff" stroke="#1c1c1c" stroke-width="1.5"/><polygon points="1615.9,427.5 1615.9,418.3 1618.7,414.2 1618.7,412.2 1624.9,412.2 1624.9,414.2 1627.7,418.3 1627.7,427.5" fill="#050505" stroke="#050505" stroke-width="0.6" stroke-linejoin="round"/>
<rect x="1634.83" y="409.95" width="16.10" height="19.50" fill="#fff" stroke="#1c1c1c" stroke-width="1.5"/><polygon points="1637.0,427.5 1637.0,418.3 1639.8,414.2 1639.8,412.2 1646.0,412.2 1646.0,414.2 1648.8,418.3 1648.8,427.5" fill="#050505" stroke="#050505" stroke-width="0.6" stroke-linejoin="round"/>
<rect x="1655.91" y="409.95" width="16.10" height="19.50" fill="#fff" stroke="#1c1c1c" stroke-width="1.5"/><polygon points="1658.1,427.5 1658.1,418.3 1660.9,414.2 1660.9,412.2 1667.1,412.2 1667.1,414.2 1669.9,418.3 1669.9,427.5" fill="#050505" stroke="#050505" stroke-width="0.6" stroke-linejoin="round"/>
<rect x="1676.99" y="409.95" width="16.10" height="19.50" fill="#fff" stroke="#1c1c1c" stroke-width="1.5"/><polygon points="1679.1,427.5 1679.1,418.3 1681.9,414.2 1681.9,412.2 1688.1,412.2 1688.1,414.2 1690.9,418.3 1690.9,427.5" fill="#050505" stroke="#050505" stroke-width="0.6" stroke-linejoin="round"/>
<rect x="1698.07" y="409.95" width="16.10" height="19.50" fill="#fff" stroke="#1c1c1c" stroke-width="1.5"/><polygon points="1700.2,427.5 1700.2,418.3 1703.0,414.2 1703.0,412.2 1709.2,412.2 1709.2,414.2 1712.0,418.3 1712.0,427.5" fill="#050505" stroke="#050505" stroke-width="0.6" stroke-linejoin="round"/>
<rect x="1719.15" y="409.95" width="16.10" height="19.50" fill="#fff" stroke="#1c1c1c" stroke-width="1.5"/><polygon points="1721.3,427.5 1721.3,418.3 1724.1,414.2 1724.1,412.2 1730.3,412.2 1730.3,414.2 1733.1,418.3 1733.1,427.5" fill="#050505" stroke="#050505" stroke-width="0.6" stroke-linejoin="round"/>
<rect x="1396.7" y="452.9" width="344.3" height="55" fill="#e6e7e8" stroke="#333" stroke-width="1.1"/>
<rect x="1419.3" y="449.2" width="300.5" height="62.8" fill="#e6e7e8" stroke="#222" stroke-width="1.3"/>
<rect x="1432.5" y="456.6" width="94" height="33.9" fill="#e6e7e8" stroke="#222" stroke-width="1.2"/>
<rect x="1558.95" y="484.25" width="15.30" height="18.70" fill="#fff" stroke="#1c1c1c" stroke-width="1.5"/><polygon points="1561.1,486.2 1561.1,494.9 1563.5,498.8 1563.5,500.7 1569.7,500.7 1569.7,498.8 1572.1,494.9 1572.1,486.2" fill="#050505" stroke="#050505" stroke-width="0.6" stroke-linejoin="round"/>
<rect x="1582.4" y="455.7" width="127.9" height="48.5" fill="#e6e7e8" stroke="#222" stroke-width="1.2"/>
<rect x="1586.45" y="460.05" width="15.30" height="18.30" fill="#fff" stroke="#1c1c1c" stroke-width="1.5"/><polygon points="1588.6,476.4 1588.6,467.9 1591.0,464.1 1591.0,462.3 1597.2,462.3 1597.2,464.1 1599.6,467.9 1599.6,476.4" fill="#050505" stroke="#050505" stroke-width="0.6" stroke-linejoin="round"/>
<rect x="1586.45" y="482.95" width="15.30" height="18.70" fill="#fff" stroke="#1c1c1c" stroke-width="1.5"/><polygon points="1588.6,484.9 1588.6,493.6 1591.0,497.5 1591.0,499.4 1597.2,499.4 1597.2,497.5 1599.6,493.6 1599.6,484.9" fill="#050505" stroke="#050505" stroke-width="0.6" stroke-linejoin="round"/>
<rect x="1607.41" y="460.05" width="15.30" height="18.30" fill="#fff" stroke="#1c1c1c" stroke-width="1.5"/><polygon points="1609.6,476.4 1609.6,467.9 1612.0,464.1 1612.0,462.3 1618.2,462.3 1618.2,464.1 1620.6,467.9 1620.6,476.4" fill="#050505" stroke="#050505" stroke-width="0.6" stroke-linejoin="round"/>
<rect x="1607.41" y="482.95" width="15.30" height="18.70" fill="#fff" stroke="#1c1c1c" stroke-width="1.5"/><polygon points="1609.6,484.9 1609.6,493.6 1612.0,497.5 1612.0,499.4 1618.2,499.4 1618.2,497.5 1620.6,493.6 1620.6,484.9" fill="#050505" stroke="#050505" stroke-width="0.6" stroke-linejoin="round"/>
<rect x="1628.37" y="460.05" width="15.30" height="18.30" fill="#fff" stroke="#1c1c1c" stroke-width="1.5"/><polygon points="1630.5,476.4 1630.5,467.9 1632.9,464.1 1632.9,462.3 1639.1,462.3 1639.1,464.1 1641.5,467.9 1641.5,476.4" fill="#050505" stroke="#050505" stroke-width="0.6" stroke-linejoin="round"/>
<rect x="1628.37" y="482.95" width="15.30" height="18.70" fill="#fff" stroke="#1c1c1c" stroke-width="1.5"/><polygon points="1630.5,484.9 1630.5,493.6 1632.9,497.5 1632.9,499.4 1639.1,499.4 1639.1,497.5 1641.5,493.6 1641.5,484.9" fill="#050505" stroke="#050505" stroke-width="0.6" stroke-linejoin="round"/>
<rect x="1649.33" y="460.05" width="15.30" height="18.30" fill="#fff" stroke="#1c1c1c" stroke-width="1.5"/><polygon points="1651.5,476.4 1651.5,467.9 1653.9,464.1 1653.9,462.3 1660.1,462.3 1660.1,464.1 1662.5,467.9 1662.5,476.4" fill="#050505" stroke="#050505" stroke-width="0.6" stroke-linejoin="round"/>
<rect x="1649.33" y="482.95" width="15.30" height="18.70" fill="#fff" stroke="#1c1c1c" stroke-width="1.5"/><polygon points="1651.5,484.9 1651.5,493.6 1653.9,497.5 1653.9,499.4 1660.1,499.4 1660.1,497.5 1662.5,493.6 1662.5,484.9" fill="#050505" stroke="#050505" stroke-width="0.6" stroke-linejoin="round"/>
<rect x="1670.29" y="460.05" width="15.30" height="18.30" fill="#fff" stroke="#1c1c1c" stroke-width="1.5"/><polygon points="1672.4,476.4 1672.4,467.9 1674.8,464.1 1674.8,462.3 1681.0,462.3 1681.0,464.1 1683.4,467.9 1683.4,476.4" fill="#050505" stroke="#050505" stroke-width="0.6" stroke-linejoin="round"/>
<rect x="1670.29" y="482.95" width="15.30" height="18.70" fill="#fff" stroke="#1c1c1c" stroke-width="1.5"/><polygon points="1672.4,484.9 1672.4,493.6 1674.8,497.5 1674.8,499.4 1681.0,499.4 1681.0,497.5 1683.4,493.6 1683.4,484.9" fill="#050505" stroke="#050505" stroke-width="0.6" stroke-linejoin="round"/>
<rect x="1691.25" y="460.05" width="15.30" height="18.30" fill="#fff" stroke="#1c1c1c" stroke-width="1.5"/><polygon points="1693.4,476.4 1693.4,467.9 1695.8,464.1 1695.8,462.3 1702.0,462.3 1702.0,464.1 1704.4,467.9 1704.4,476.4" fill="#050505" stroke="#050505" stroke-width="0.6" stroke-linejoin="round"/>
<rect x="1691.25" y="482.95" width="15.30" height="18.70" fill="#fff" stroke="#1c1c1c" stroke-width="1.5"/><polygon points="1693.4,484.9 1693.4,493.6 1695.8,497.5 1695.8,499.4 1702.0,499.4 1702.0,497.5 1704.4,493.6 1704.4,484.9" fill="#050505" stroke="#050505" stroke-width="0.6" stroke-linejoin="round"/>
<rect x="1396.7" y="522.5" width="344.3" height="54.1" fill="#e6e7e8" stroke="#333" stroke-width="1.1"/>
<rect x="1419.3" y="518.5" width="300.5" height="60.8" fill="#e6e7e8" stroke="#222" stroke-width="1.3"/>
<rect x="1424.3" y="523.8" width="72.3" height="23.8" fill="#e6e7e8" stroke="#222" stroke-width="1.2"/>
<rect x="1501.95" y="553.15" width="15.20" height="18.60" fill="#fff" stroke="#1c1c1c" stroke-width="1.5"/><polygon points="1504.1,555.1 1504.1,563.7 1506.5,567.6 1506.5,569.5 1512.6,569.5 1512.6,567.6 1515.0,563.7 1515.0,555.1" fill="#050505" stroke="#050505" stroke-width="0.6" stroke-linejoin="round"/>
<rect x="1529.2" y="547.6" width="85.2" height="25.3" fill="#e6e7e8" stroke="#222" stroke-width="1.2"/>
<rect x="1618.7" y="547.6" width="85" height="25.3" fill="#e6e7e8" stroke="#222" stroke-width="1.2"/>
<rect x="1533.25" y="551.35" width="15.10" height="18.70" fill="#fff" stroke="#1c1c1c" stroke-width="1.5"/><polygon points="1535.4,553.3 1535.4,562.0 1537.7,565.9 1537.7,567.8 1543.9,567.8 1543.9,565.9 1546.2,562.0 1546.2,553.3" fill="#050505" stroke="#050505" stroke-width="0.6" stroke-linejoin="round"/>
<rect x="1622.55" y="551.35" width="15.10" height="18.70" fill="#fff" stroke="#1c1c1c" stroke-width="1.5"/><polygon points="1624.7,553.3 1624.7,562.0 1627.0,565.9 1627.0,567.8 1633.2,567.8 1633.2,565.9 1635.5,562.0 1635.5,553.3" fill="#050505" stroke="#050505" stroke-width="0.6" stroke-linejoin="round"/>
<rect x="1553.95" y="551.35" width="15.10" height="18.70" fill="#fff" stroke="#1c1c1c" stroke-width="1.5"/><polygon points="1556.1,553.3 1556.1,562.0 1558.4,565.9 1558.4,567.8 1564.6,567.8 1564.6,565.9 1566.9,562.0 1566.9,553.3" fill="#050505" stroke="#050505" stroke-width="0.6" stroke-linejoin="round"/>
<rect x="1643.25" y="551.35" width="15.10" height="18.70" fill="#fff" stroke="#1c1c1c" stroke-width="1.5"/><polygon points="1645.4,553.3 1645.4,562.0 1647.7,565.9 1647.7,567.8 1653.9,567.8 1653.9,565.9 1656.2,562.0 1656.2,553.3" fill="#050505" stroke="#050505" stroke-width="0.6" stroke-linejoin="round"/>
<rect x="1574.65" y="551.35" width="15.10" height="18.70" fill="#fff" stroke="#1c1c1c" stroke-width="1.5"/><polygon points="1576.8,553.3 1576.8,562.0 1579.1,565.9 1579.1,567.8 1585.3,567.8 1585.3,565.9 1587.6,562.0 1587.6,553.3" fill="#050505" stroke="#050505" stroke-width="0.6" stroke-linejoin="round"/>
<rect x="1663.95" y="551.35" width="15.10" height="18.70" fill="#fff" stroke="#1c1c1c" stroke-width="1.5"/><polygon points="1666.1,553.3 1666.1,562.0 1668.4,565.9 1668.4,567.8 1674.6,567.8 1674.6,565.9 1676.9,562.0 1676.9,553.3" fill="#050505" stroke="#050505" stroke-width="0.6" stroke-linejoin="round"/>
<rect x="1595.35" y="551.35" width="15.10" height="18.70" fill="#fff" stroke="#1c1c1c" stroke-width="1.5"/><polygon points="1597.5,553.3 1597.5,562.0 1599.8,565.9 1599.8,567.8 1606.0,567.8 1606.0,565.9 1608.3,562.0 1608.3,553.3" fill="#050505" stroke="#050505" stroke-width="0.6" stroke-linejoin="round"/>
<rect x="1684.65" y="551.35" width="15.10" height="18.70" fill="#fff" stroke="#1c1c1c" stroke-width="1.5"/><polygon points="1686.8,553.3 1686.8,562.0 1689.1,565.9 1689.1,567.8 1695.3,567.8 1695.3,565.9 1697.6,562.0 1697.6,553.3" fill="#050505" stroke="#050505" stroke-width="0.6" stroke-linejoin="round"/>
<path d="M1623.3,300.4 C1626.5,300.9 1635.5,300.2 1642.2,303.6 C1648.9,307.0 1657.3,313.4 1663.6,320.6 C1669.9,327.8 1675.5,336.7 1680.2,346.6 C1684.9,356.5 1689.2,369.6 1692.0,379.8 C1694.8,390.0 1696.2,398.5 1696.8,408.0 C1697.4,417.5 1696.8,427.2 1695.6,436.7 C1694.4,446.2 1692.3,455.7 1689.7,465.2 C1687.1,474.7 1681.5,489.0 1679.8,493.8" fill="none" stroke="#ffe81a" stroke-width="5.6" stroke-linecap="round"/>
<path d="M1644,334.5 C1618,345 1601,380 1601,421 C1601,455 1606,478 1615.4,493" fill="none" stroke="#1b6fb5" stroke-width="5.6" stroke-linecap="round"/>
<path d="M1516.6,338.3 C1519.8,338.6 1530.1,336.6 1535.6,340.0 C1541.1,343.4 1545.1,351.1 1549.8,358.5 C1554.5,365.9 1558.9,374.6 1564.0,384.6 C1569.1,394.6 1576.4,408.4 1580.6,418.5 C1584.8,428.6 1586.8,436.9 1589.0,445.0 C1591.2,453.1 1592.3,459.3 1594.0,467.0 C1595.7,474.7 1597.6,482.5 1599.0,491.0 C1600.4,499.5 1601.5,509.2 1602.5,518.0 C1603.5,526.8 1604.5,536.6 1605.0,543.6 C1605.5,550.6 1605.2,557.3 1605.3,560.0" fill="none" stroke="#1fa784" stroke-width="5.6" stroke-linecap="round"/>
<path d="M1620.9,382.4 C1623.7,385.1 1632.4,392.9 1637.5,398.8 C1642.6,404.7 1647.4,410.7 1651.7,417.8 C1656.0,424.9 1660.3,433.3 1663.6,441.5 C1666.9,449.7 1669.8,458.9 1671.5,467.0 C1673.2,475.1 1673.9,481.5 1674.0,490.0 C1674.1,498.5 1673.7,509.7 1672.2,518.0 C1670.7,526.3 1668.2,532.8 1664.8,540.0 C1661.4,547.2 1654.1,557.5 1652.0,561.0" fill="none" stroke="#c3174c" stroke-width="5.6" stroke-linecap="round"/>
<path d="M1537.4,418.8 C1560,425 1570.5,445 1570.5,467 C1570.5,505 1555,535 1540.2,558.3" fill="none" stroke="#ffe81a" stroke-width="5.6" stroke-linecap="round"/>
<path d="M1517,300 C1480,303 1456.5,330 1456.5,370 C1456.5,395 1465,410 1477,421" fill="none" stroke="#c3174c" stroke-width="5.6" stroke-linecap="round"/>
<rect x="1363.3" y="265.2" width="33.6" height="474.5" fill="#000"/>
<rect x="1741" y="265.2" width="32.5" height="474.5" fill="#000"/>
<rect x="1363.3" y="267.3" width="410" height="7.2" fill="#000"/>
<circle cx="1380.7" cy="295.3" r="3.5" fill="#fff"/><circle cx="1757.7" cy="295.3" r="3.5" fill="#fff"/>
<circle cx="1380.7" cy="307.2" r="3.5" fill="#fff"/><circle cx="1757.7" cy="307.2" r="3.5" fill="#fff"/>
<circle cx="1380.7" cy="319.1" r="3.5" fill="#fff"/><circle cx="1757.7" cy="319.1" r="3.5" fill="#fff"/>
<circle cx="1380.7" cy="331.0" r="3.5" fill="#fff"/><circle cx="1757.7" cy="331.0" r="3.5" fill="#fff"/>
<circle cx="1380.7" cy="342.9" r="3.5" fill="#fff"/><circle cx="1757.7" cy="342.9" r="3.5" fill="#fff"/>
<circle cx="1380.7" cy="354.8" r="3.5" fill="#fff"/><circle cx="1757.7" cy="354.8" r="3.5" fill="#fff"/>
<circle cx="1380.7" cy="366.6" r="3.5" fill="#fff"/><circle cx="1757.7" cy="366.6" r="3.5" fill="#fff"/>
<circle cx="1380.7" cy="378.5" r="3.5" fill="#fff"/><circle cx="1757.7" cy="378.5" r="3.5" fill="#fff"/>
<circle cx="1380.7" cy="390.4" r="3.5" fill="#fff"/><circle cx="1757.7" cy="390.4" r="3.5" fill="#fff"/>
<circle cx="1380.7" cy="402.3" r="3.5" fill="#fff"/><circle cx="1757.7" cy="402.3" r="3.5" fill="#fff"/>
<circle cx="1380.7" cy="414.2" r="3.5" fill="#fff"/><circle cx="1757.7" cy="414.2" r="3.5" fill="#fff"/>
<circle cx="1380.7" cy="426.1" r="3.5" fill="#fff"/><circle cx="1757.7" cy="426.1" r="3.5" fill="#fff"/>
<circle cx="1380.7" cy="438.0" r="3.5" fill="#fff"/><circle cx="1757.7" cy="438.0" r="3.5" fill="#fff"/>
<circle cx="1380.7" cy="449.9" r="3.5" fill="#fff"/><circle cx="1757.7" cy="449.9" r="3.5" fill="#fff"/>
<circle cx="1380.7" cy="461.8" r="3.5" fill="#fff"/><circle cx="1757.7" cy="461.8" r="3.5" fill="#fff"/>
<circle cx="1380.7" cy="473.7" r="3.5" fill="#fff"/><circle cx="1757.7" cy="473.7" r="3.5" fill="#fff"/>
<circle cx="1380.7" cy="485.5" r="3.5" fill="#fff"/><circle cx="1757.7" cy="485.5" r="3.5" fill="#fff"/>
<circle cx="1380.7" cy="497.4" r="3.5" fill="#fff"/><circle cx="1757.7" cy="497.4" r="3.5" fill="#fff"/>
<circle cx="1380.7" cy="509.3" r="3.5" fill="#fff"/><circle cx="1757.7" cy="509.3" r="3.5" fill="#fff"/>
<circle cx="1380.7" cy="521.2" r="3.5" fill="#fff"/><circle cx="1757.7" cy="521.2" r="3.5" fill="#fff"/>
<circle cx="1380.7" cy="533.1" r="3.5" fill="#fff"/><circle cx="1757.7" cy="533.1" r="3.5" fill="#fff"/>
<circle cx="1380.7" cy="545.0" r="3.5" fill="#fff"/><circle cx="1757.7" cy="545.0" r="3.5" fill="#fff"/>
<circle cx="1380.7" cy="556.9" r="3.5" fill="#fff"/><circle cx="1757.7" cy="556.9" r="3.5" fill="#fff"/>
<circle cx="1380.7" cy="568.8" r="3.5" fill="#fff"/><circle cx="1757.7" cy="568.8" r="3.5" fill="#fff"/>
<circle cx="1380.7" cy="580.7" r="3.5" fill="#fff"/><circle cx="1757.7" cy="580.7" r="3.5" fill="#fff"/>
<circle cx="1380.7" cy="592.5" r="3.5" fill="#fff"/><circle cx="1757.7" cy="592.5" r="3.5" fill="#fff"/>
<circle cx="1380.7" cy="604.4" r="3.5" fill="#fff"/><circle cx="1757.7" cy="604.4" r="3.5" fill="#fff"/>
<circle cx="1380.7" cy="616.3" r="3.5" fill="#fff"/><circle cx="1757.7" cy="616.3" r="3.5" fill="#fff"/>
<circle cx="1380.7" cy="628.2" r="3.5" fill="#fff"/><circle cx="1757.7" cy="628.2" r="3.5" fill="#fff"/>
<circle cx="1380.7" cy="640.1" r="3.5" fill="#fff"/><circle cx="1757.7" cy="640.1" r="3.5" fill="#fff"/>
<circle cx="1380.7" cy="652.0" r="3.5" fill="#fff"/><circle cx="1757.7" cy="652.0" r="3.5" fill="#fff"/>
<circle cx="1380.7" cy="663.9" r="3.5" fill="#fff"/><circle cx="1757.7" cy="663.9" r="3.5" fill="#fff"/>
<circle cx="1380.7" cy="675.8" r="3.5" fill="#fff"/><circle cx="1757.7" cy="675.8" r="3.5" fill="#fff"/>
<circle cx="1380.7" cy="687.7" r="3.5" fill="#fff"/><circle cx="1757.7" cy="687.7" r="3.5" fill="#fff"/>
<circle cx="1380.7" cy="699.6" r="3.5" fill="#fff"/><circle cx="1757.7" cy="699.6" r="3.5" fill="#fff"/>
<circle cx="1380.7" cy="711.5" r="3.5" fill="#fff"/><circle cx="1757.7" cy="711.5" r="3.5" fill="#fff"/>
<circle cx="1380.7" cy="723.3" r="3.5" fill="#fff"/><circle cx="1757.7" cy="723.3" r="3.5" fill="#fff"/>
<circle cx="1380.7" cy="735.2" r="3.5" fill="#fff"/><circle cx="1757.7" cy="735.2" r="3.5" fill="#fff"/>
<path d="M1732,338.4 L1845,392.2 L1714,409.8 M1718.2,503.8 L1847,600.4 L1720.2,562.6 M1773.4,679.4 L1845,694.3" fill="none" stroke="#111" stroke-width="1.9"/>
<polygon points="1414.6,741.0 1723.3,741.0 1712.0,774.2 1427.3,774.2" fill="#000"/>
<polygon points="1362.7,741.0 1413.2,741.0 1432.3,789.4 1347.5,789.4" fill="#000"/>
<polygon points="1724.7,741.0 1775.0,741.0 1794.0,789.4 1709.3,789.4" fill="#000"/>
<rect x="27" y="127" width="183.5" height="1.9" fill="#0d0d0d"/>
<text transform="translate(28.07,63.80) scale(0.8163,1)" style="font-size:47px;font-weight:bold;fill:#0d0d0d;">Typical LAN Premise Wiring</text>
<text transform="translate(28.62,63.80) scale(0.8163,1)" style="font-size:47px;font-weight:bold;fill:#0d0d0d;">Typical LAN Premise Wiring</text>
<text transform="translate(27.52,63.80) scale(0.8163,1)" style="font-size:47px;font-weight:bold;fill:#0d0d0d;">Typical LAN Premise Wiring</text>
<text transform="translate(27.17,124.00) scale(0.8935,1)" style="font-size:32px;font-weight:bold;fill:#0d0d0d;">Wiring Notes:</text>
<text transform="translate(27.47,124.00) scale(0.8935,1)" style="font-size:32px;font-weight:bold;fill:#0d0d0d;">Wiring Notes:</text>
<text transform="translate(26.87,124.00) scale(0.8935,1)" style="font-size:32px;font-weight:bold;fill:#0d0d0d;">Wiring Notes:</text>
<text transform="translate(1371.37,63.80) scale(0.8126,1)" style="font-size:47px;font-weight:bold;fill:#0d0d0d;">Typical Telecommunications Closet</text>
<text transform="translate(1371.92,63.80) scale(0.8126,1)" style="font-size:47px;font-weight:bold;fill:#0d0d0d;">Typical Telecommunications Closet</text>
<text transform="translate(1370.82,63.80) scale(0.8126,1)" style="font-size:47px;font-weight:bold;fill:#0d0d0d;">Typical Telecommunications Closet</text>
<text transform="translate(26.59,176.90) scale(0.8650,1)" style="font-size:32px;font-weight:normal;fill:#58585a;stroke:#58585a;stroke-width:0.45;">1.</text>
<text transform="translate(58.39,176.90) scale(0.8650,1)" style="font-size:32px;font-weight:normal;fill:#58585a;stroke:#58585a;stroke-width:0.45;word-spacing:18.938px;">Category 5e<tspan dx="4.6">/</tspan><tspan dx="4.6">6</tspan> unshielded</text>
<text transform="translate(59.38,218.80) scale(0.8650,1)" style="font-size:32px;font-weight:normal;fill:#58585a;stroke:#58585a;stroke-width:0.45;word-spacing:1.259px;">twisted pair is the norm. Use</text>
<text transform="translate(59.16,260.70) scale(0.8650,1)" style="font-size:32px;font-weight:normal;fill:#58585a;stroke:#58585a;stroke-width:0.45;word-spacing:3.394px;">4 pair solid conductor inside</text>
<text transform="translate(59.38,302.60) scale(0.8650,1)" style="font-size:32px;font-weight:normal;fill:#58585a;stroke:#58585a;stroke-width:0.45;word-spacing:1.425px;">the walls, 4 pair stranded for</text>
<text transform="translate(58.02,344.50) scale(0.8650,1)" style="font-size:32px;font-weight:normal;fill:#58585a;stroke:#58585a;stroke-width:0.45;word-spacing:12.895px;">patch cords. Plenum rated</text>
<text transform="translate(58.62,386.40) scale(0.8650,1)" style="font-size:32px;font-weight:normal;fill:#58585a;stroke:#58585a;stroke-width:0.45;word-spacing:13.182px;">cabling may be necessary</text>
<text transform="translate(58.64,428.30) scale(0.8650,1)" style="font-size:32px;font-weight:normal;fill:#58585a;stroke:#58585a;stroke-width:0.45;word-spacing:11.135px;">depending upon fire codes</text>
<text transform="translate(57.89,470.20) scale(0.8923,1)" style="font-size:32px;font-weight:normal;fill:#58585a;stroke:#58585a;stroke-width:0.45;">in your area.</text>
<text transform="translate(26.41,576.60) scale(0.8650,1)" style="font-size:32px;font-weight:normal;fill:#58585a;stroke:#58585a;stroke-width:0.45;">2.</text>
<text transform="translate(57.62,576.60) scale(0.8300,1)" style="font-size:32px;font-weight:normal;fill:#58585a;stroke:#58585a;stroke-width:0.45;letter-spacing:4.226px;">Maximum distance for a</text>
<text transform="translate(58.02,618.40) scale(0.8000,1)" style="font-size:32px;font-weight:normal;fill:#58585a;stroke:#58585a;stroke-width:0.45;word-spacing:7.287px;">horizontal run is 90m plus an</text>
<text transform="translate(58.67,660.40) scale(0.8306,1)" style="font-size:32px;font-weight:normal;fill:#58585a;stroke:#58585a;stroke-width:0.45;">additional 10m for patching.</text>
<text transform="translate(26.75,767.30) scale(0.8650,1)" style="font-size:32px;font-weight:normal;fill:#58585a;stroke:#58585a;stroke-width:0.45;">3.</text>
<text transform="translate(57.53,767.30) scale(0.8650,1)" style="font-size:32px;font-weight:normal;fill:#58585a;stroke:#58585a;stroke-width:0.45;word-spacing:5.218px;">Fiber is the common choice</text>
<text transform="translate(59.42,809.30) scale(0.8400,1)" style="font-size:32px;font-weight:normal;fill:#58585a;stroke:#58585a;stroke-width:0.45;word-spacing:1.879px;">for backbone wiring. It is also</text>
<text transform="translate(57.97,850.80) scale(0.8600,1)" style="font-size:32px;font-weight:normal;fill:#58585a;stroke:#58585a;stroke-width:0.45;word-spacing:8.154px;">recommended for horizontal</text>
<text transform="translate(57.94,892.20) scale(0.8772,1)" style="font-size:32px;font-weight:normal;fill:#58585a;stroke:#58585a;stroke-width:0.45;">runs over 100m.</text>
<text transform="translate(442.85,229.00) scale(0.9637,1)" style="font-size:23.5px;font-weight:bold;fill:#0d0d0d;">Telecommunications</text>
<text transform="translate(520.69,254.00) scale(0.9409,1)" style="font-size:23.5px;font-weight:bold;fill:#0d0d0d;">Closet</text>
<text transform="translate(442.85,455.00) scale(0.9637,1)" style="font-size:23.5px;font-weight:bold;fill:#0d0d0d;">Telecommunications</text>
<text transform="translate(520.69,480.00) scale(0.9409,1)" style="font-size:23.5px;font-weight:bold;fill:#0d0d0d;">Closet</text>
<text transform="translate(459.66,680.80) scale(0.9777,1)" style="font-size:23.5px;font-weight:bold;fill:#0d0d0d;">Equipment Room/</text>
<text transform="translate(469.62,706.40) scale(0.9385,1)" style="font-size:23.5px;font-weight:bold;fill:#0d0d0d;">Entrance Facility</text>
<text transform="translate(1132.73,201.00) scale(0.9191,1)" style="font-size:24px;font-weight:bold;fill:#0d0d0d;">Work Area</text>
<text transform="translate(1132.73,427.00) scale(0.9191,1)" style="font-size:24px;font-weight:bold;fill:#0d0d0d;">Work Area</text>
<text transform="translate(1132.73,653.00) scale(0.9191,1)" style="font-size:24px;font-weight:bold;fill:#0d0d0d;">Work Area</text>
<text transform="translate(610.90,880.80) scale(0.9726,1)" style="font-size:21.5px;font-weight:bold;fill:#0d0d0d;">Horizontal Wiring</text>
<text transform="translate(851.63,880.80) scale(0.9540,1)" style="font-size:21.5px;font-weight:bold;fill:#0d0d0d;">Backbone Wiring</text>
<text transform="translate(1092.45,880.80) scale(0.9596,1)" style="font-size:21.5px;font-weight:bold;fill:#0d0d0d;">Outside Wiring</text>
<text transform="translate(1845.91,153.30) scale(0.8735,1)" style="font-size:32px;font-weight:normal;fill:#58585a;stroke:#58585a;stroke-width:0.45;">Horizontal runs to</text>
<text transform="translate(1847.01,190.40) scale(0.8844,1)" style="font-size:32px;font-weight:normal;fill:#58585a;stroke:#58585a;stroke-width:0.45;">office drops are</text>
<text transform="translate(1847.02,228.90) scale(0.8704,1)" style="font-size:32px;font-weight:normal;fill:#58585a;stroke:#58585a;stroke-width:0.45;">connected permanently</text>
<text transform="translate(1847.78,265.50) scale(0.8685,1)" style="font-size:32px;font-weight:normal;fill:#58585a;stroke:#58585a;stroke-width:0.45;">to the rear of Category</text>
<text transform="translate(1847.06,303.20) scale(0.8862,1)" style="font-size:32px;font-weight:normal;fill:#58585a;stroke:#58585a;stroke-width:0.45;">5e<tspan dx="4.6">/</tspan><tspan dx="4.6">6</tspan> patch panels.</text>
<text transform="translate(1846.77,403.30) scale(0.8802,1)" style="font-size:32px;font-weight:normal;fill:#58585a;stroke:#58585a;stroke-width:0.45;">Category 5e<tspan dx="4.6">/</tspan><tspan dx="4.6">6</tspan> patch</text>
<text transform="translate(1846.39,440.50) scale(0.8774,1)" style="font-size:32px;font-weight:normal;fill:#58585a;stroke:#58585a;stroke-width:0.45;">panels and patch cords</text>
<text transform="translate(1847.00,478.20) scale(0.8804,1)" style="font-size:32px;font-weight:normal;fill:#58585a;stroke:#58585a;stroke-width:0.45;">are used to connect to</text>
<text transform="translate(1846.31,516.10) scale(0.8902,1)" style="font-size:32px;font-weight:normal;fill:#58585a;stroke:#58585a;stroke-width:0.45;">network equipment.</text>
<text transform="translate(1846.19,610.30) scale(0.8796,1)" style="font-size:32px;font-weight:normal;fill:#58585a;stroke:#58585a;stroke-width:0.45;">Network Equipment</text>
<text transform="translate(1845.69,706.30) scale(0.9073,1)" style="font-size:32px;font-weight:normal;fill:#58585a;stroke:#58585a;stroke-width:0.45;">19&quot; rack or cabinet.</text>
</svg>
</body></html>
